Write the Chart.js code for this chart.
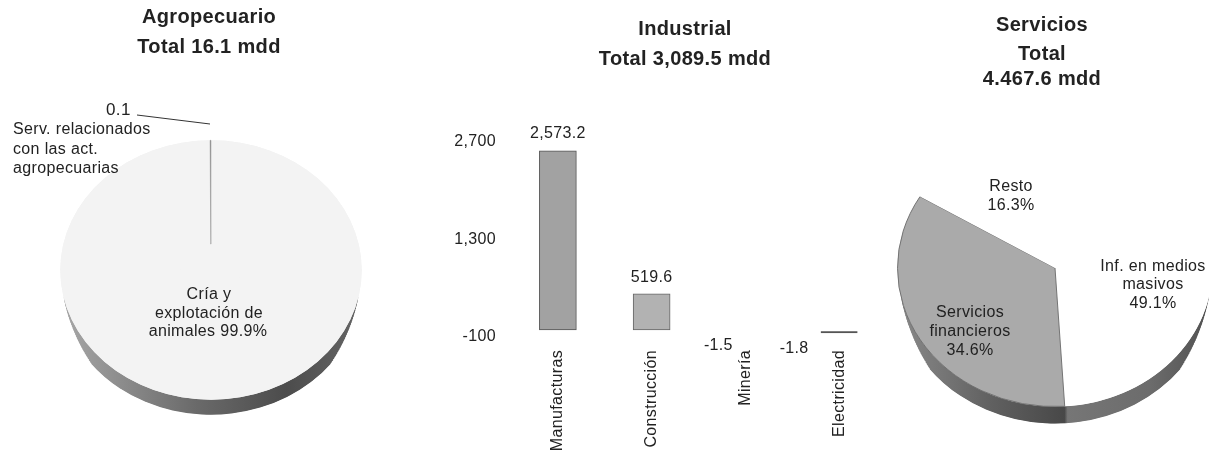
<!DOCTYPE html>
<html>
<head>
<meta charset="utf-8">
<script src="https://cdn.jsdelivr.net/npm/chart.js@4"></script>
<style>
  body { margin: 0; background: #fff; width: 1217px; height: 454px; overflow: hidden; position: relative; }
  canvas { position: absolute; top: 0; }
</style>
</head>
<body>
<canvas id="agro" width="420" height="454" style="left:0"></canvas>
<canvas id="indus" width="470" height="454" style="left:420px"></canvas>
<canvas id="serv" width="327" height="454" style="left:890px"></canvas>
<script>
// data
const agroCategories = ['Cría y explotación de animales', 'Serv. relacionados con las act. agropecuarias'];
const agroValues = [99.9, 0.1];

const indusCategories = ['Manufacturas', 'Construcción', 'Minería', 'Electricidad'];
const indusValues = [2573.2, 519.6, -1.5, -1.8];
const indusValueLabels = ['2,573.2', '519.6', '-1.5', '-1.8'];
const indusTickLabels = ['-100', '1,300', '2,700'];

const servCategories = ['Inf. en medios masivos', 'Servicios financieros', 'Resto'];
const servValues = [49.1, 34.6, 16.3];

const FONT = '"Liberation Sans", Arial, sans-serif';
const INK = '#222';
Chart.defaults.font.family = FONT;
Chart.defaults.animation = false;

// the scan has slightly looser text than the font
Chart.register({
    id: 'looseText',
    beforeDraw(chart) {
        chart.ctx.letterSpacing = '0.35px';
    }
});

// squashes the pie into an ellipse and paints the rim below it
const tiltPlugin = {
    id: 'tilt',
    beforeDatasetsDraw(chart, args, opts) {
        const ctx = chart.ctx;
        const arcs = chart.getDatasetMeta(0).data;
        const cx = arcs[0].x, cy = arcs[0].y, r = arcs[0].outerRadius;
        ctx.save();
        ctx.translate(cx, cy);
        ctx.scale(1, opts.squash);
        ctx.translate(-cx, -cy);

        const grad = ctx.createLinearGradient(cx - r, 0, cx + r, 0);
        opts.rimStops.forEach(s => grad.addColorStop(s[0], s[1]));
        ctx.fillStyle = grad;
        const depth = opts.depth / opts.squash;
        for (let d = depth; d > 0; d -= 0.5) {
            // deeper copies start further round, so the rim tapers to nothing at its ends
            const from = opts.rimFrom + 0.45 * d / depth;
            ctx.beginPath();
            ctx.arc(cx, cy + d, r, from, Math.PI - from);
            ctx.fill();
        }
        ctx.fillStyle = opts.hub;
        ctx.beginPath();
        ctx.arc(cx, cy, r, 0, Math.PI * 2);
        ctx.fill();
    },
    afterDatasetsDraw(chart) {
        chart.ctx.restore();
    }
};

// titles and slice labels, x/y given in page pixels
const notesPlugin = {
    id: 'notes',
    afterDraw(chart, args, opts) {
        const ctx = chart.ctx;
        ctx.save();
        ctx.translate(-opts.left, 0);
        ctx.fillStyle = INK;
        ctx.textBaseline = 'middle';
        opts.items.forEach(n => {
            ctx.font = n.font || '16px ' + FONT;
            ctx.textAlign = n.align || 'center';
            ctx.fillText(n.text, n.x, n.y);
        });
        if (opts.leader) {
            const p = opts.leader;
            ctx.strokeStyle = '#333';
            ctx.lineWidth = 1;
            ctx.beginPath();
            ctx.moveTo(p[0], p[1]);
            ctx.lineTo(p[2], p[3]);
            ctx.stroke();
        }
        ctx.restore();
    }
};

// value labels over the bars, the small negative ones sit to the left
const barLabelPlugin = {
    id: 'barLabels',
    afterDatasetsDraw(chart) {
        const ctx = chart.ctx;
        const shifts = [[0, -17], [0, -16], [-27, 13], [-45, 16]];
        ctx.save();
        ctx.font = '16px ' + FONT;
        ctx.fillStyle = INK;
        ctx.textAlign = 'center';
        ctx.textBaseline = 'middle';
        chart.getDatasetMeta(0).data.forEach((bar, i) => {
            ctx.fillText(indusValueLabels[i], bar.x + shifts[i][0], bar.y + shifts[i][1]);
        });
        ctx.restore();
    }
};

const TITLE = 'bold 20px ' + FONT;

new Chart(document.getElementById('agro'), {
    type: 'pie',
    data: {
        labels: agroCategories,
        datasets: [{
            data: agroValues,
            backgroundColor: ['#f3f3f3', '#8c8c8c'],
            borderColor: ['#f3f3f3', '#999999'],
            borderWidth: [0, 0.5]
        }]
    },
    plugins: [tiltPlugin, notesPlugin],
    options: {
        responsive: false,
        cutout: '20%',
        layout: { padding: { left: 60, right: 58, top: 119, bottom: 33 } },
        plugins: {
            legend: { display: false },
            tooltip: { enabled: false },
            tilt: {
                squash: 0.86,
                depth: 15,
                rimFrom: 0.2,
                hub: '#f3f3f3',
                rimStops: [[0, '#a8a8a8'], [0.45, '#6a6a6a'], [0.75, '#4c4c4c'], [1, '#666666']]
            },
            notes: {
                left: 0,
                leader: [137, 115, 210, 124],
                items: [
                    { text: 'Agropecuario', x: 209, y: 17, font: TITLE },
                    { text: 'Total 16.1 mdd', x: 209, y: 47, font: TITLE },
                    { text: '0.1', x: 106, y: 110, align: 'left', font: '17px ' + FONT },
                    { text: 'Serv. relacionados', x: 13, y: 130, align: 'left' },
                    { text: 'con las act.', x: 13, y: 150, align: 'left' },
                    { text: 'agropecuarias', x: 13, y: 169, align: 'left' },
                    { text: 'Cría y', x: 209, y: 295 },
                    { text: 'explotación de', x: 209, y: 314 },
                    { text: 'animales 99.9%', x: 208, y: 332 }
                ]
            }
        }
    }
});

new Chart(document.getElementById('indus'), {
    type: 'bar',
    data: {
        labels: indusCategories,
        datasets: [{
            data: indusValues,
            backgroundColor: ['#a2a2a2', '#b2b2b2', 'transparent', 'transparent'],
            borderColor: ['#555555', '#666666', 'transparent', '#555555'],
            borderWidth: [1, 1, 0, { top: 0, left: 0, right: 0, bottom: 1.5 }],
            borderSkipped: false,
            minBarLength: 3,
            barThickness: 37
        }]
    },
    plugins: [barLabelPlugin, notesPlugin],
    options: {
        responsive: false,
        layout: { padding: { top: 142, right: 4, left: 0, bottom: 0 } },
        scales: {
            x: {
                grid: { display: false },
                border: { display: false },
                afterFit(scale) { scale.height = 117; },
                ticks: {
                    color: INK,
                    font: { size: 16 },
                    minRotation: 90,
                    maxRotation: 90,
                    padding: 5,
                    autoSkip: false
                }
            },
            y: {
                min: -100,
                max: 2700,
                grid: { display: false },
                border: { display: false },
                afterFit(scale) { scale.width = 91; },
                afterBuildTicks(scale) {
                    scale.ticks = [{ value: -100 }, { value: 1300 }, { value: 2700 }];
                },
                ticks: {
                    color: INK,
                    font: { size: 16 },
                    padding: 7,
                    callback: (v, i) => indusTickLabels[i]
                }
            }
        },
        plugins: {
            legend: { display: false },
            tooltip: { enabled: false },
            notes: {
                left: 420,
                items: [
                    { text: 'Industrial', x: 685, y: 29, font: TITLE },
                    { text: 'Total 3,089.5 mdd', x: 685, y: 59, font: TITLE }
                ]
            }
        }
    }
});

new Chart(document.getElementById('serv'), {
    type: 'pie',
    data: {
        labels: servCategories,
        datasets: [{
            data: servValues,
            backgroundColor: ['#ffffff', '#aaaaaa', '#ffffff'],
            borderColor: ['#ffffff', '#6e6e6e', '#ffffff'],
            borderWidth: [0, 1, 0]
        }]
    },
    plugins: [tiltPlugin, notesPlugin],
    options: {
        responsive: false,
        rotation: -0.3,
        layout: { padding: { left: 7, right: 4, top: 110, bottom: 28 } },
        plugins: {
            legend: { display: false },
            tooltip: { enabled: false },
            tilt: {
                squash: 0.88,
                depth: 17,
                rimFrom: 0.2,
                hub: '#ffffff',
                rimStops: [[0, '#8a8a8a'], [0.3, '#606060'], [0.53, '#484848'], [0.54, '#767676'], [0.8, '#6c6c6c'], [1, '#505050']]
            },
            notes: {
                left: 890,
                items: [
                    { text: 'Servicios', x: 1042, y: 25, font: TITLE },
                    { text: 'Total', x: 1042, y: 54, font: TITLE },
                    { text: '4.467.6 mdd', x: 1042, y: 79, font: TITLE },
                    { text: 'Resto', x: 1011, y: 187 },
                    { text: '16.3%', x: 1011, y: 206 },
                    { text: 'Inf. en medios', x: 1153, y: 267 },
                    { text: 'masivos', x: 1153, y: 285 },
                    { text: '49.1%', x: 1153, y: 304 },
                    { text: 'Servicios', x: 970, y: 313 },
                    { text: 'financieros', x: 970, y: 332 },
                    { text: '34.6%', x: 970, y: 351 }
                ]
            }
        }
    }
});
</script>
</body>
</html>
